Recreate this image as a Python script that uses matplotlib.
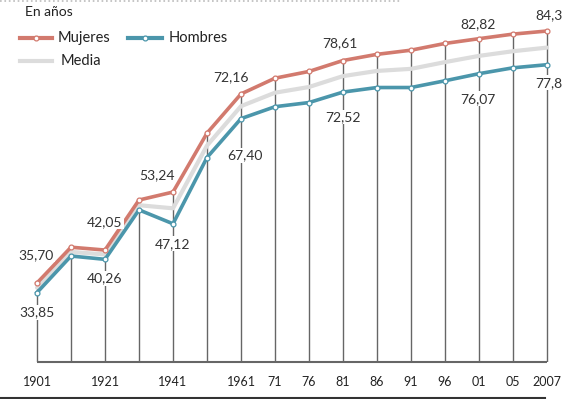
import matplotlib
matplotlib.use("Agg")
import matplotlib.pyplot as plt
from matplotlib.lines import Line2D

# ---------------- DATA ----------------
years = ["1901", "1911", "1921", "1931", "1941", "1951", "1961", "1971",
         "1976", "1981", "1986", "1991", "1996", "2001", "2005", "2007"]
tick_labels = ["1901", "", "1921", "", "1941", "", "1961", "71",
               "76", "81", "86", "91", "96", "01", "05", "2007"]
mujeres = [35.70, 42.6, 42.05, 51.7, 53.24, 64.6, 72.16, 75.2,
           76.5, 78.61, 79.8, 80.6, 81.9, 82.82, 83.7, 84.3]
hombres = [33.85, 40.9, 40.26, 49.8, 47.12, 59.9, 67.40, 69.7,
           70.5, 72.52, 73.4, 73.4, 74.7, 76.07, 77.2, 77.8]
media = [34.8, 41.7, 41.2, 50.7, 50.1, 62.2, 69.8, 72.4,
         73.5, 75.6, 76.6, 77.0, 78.3, 79.5, 80.4, 81.1]

# labels shown on the chart: (index, series, text, offset in px)
labels_m = [(0, "35,70", (-1, 28)), (2, "42,05", (0, 28)), (4, "53,24", (-16, 17)),
            (6, "72,16", (-10, 17)), (9, "78,61", (-3, 17)), (13, "82,82", (-1, 15)),
            (15, "84,3", (2, 16))]
labels_h = [(0, "33,85", (0, -20)), (2, "40,26", (0, -19)), (4, "47,12", (0, -20)),
            (6, "67,40", (4, -37)), (9, "72,52", (0, -25)), (13, "76,07", (-1, -25)),
            (15, "77,8", (2, -18))]

C_M = "#d27a6e"
C_H = "#4b96ab"
C_MED = "#dcdcdc"
FONT = "Lato"

# ---------------- FIGURE ----------------
W, H = 565, 399
fig = plt.figure(figsize=(W / 100, H / 100), dpi=100)
base_px = 362
ax = fig.add_axes([0, (H - base_px) / H, 1, base_px / H])
x = list(range(len(years)))
px_per_unit = 34.0
ax.set_xlim(-37 / px_per_unit, (W - 37) / px_per_unit)
ax.set_ylim(20.46, 90.28)
for s in ax.spines.values():
    s.set_visible(False)
ax.set_yticks([])
ax.set_xticks(x)
ax.set_xticklabels(tick_labels, fontsize=9, fontfamily=FONT, color="#222222")
ax.tick_params(axis="x", length=0, pad=10)

# vertical guides and baseline
ax.vlines(x, 20.46, mujeres, color="#666666", lw=1.0, zorder=1)
ax.hlines(20.46, x[0], x[-1], color="#666666", lw=1.5, zorder=1, clip_on=False)

mk = dict(marker="o", markersize=3.5, markerfacecolor="white", markeredgewidth=0.9)
ax.plot(x, media, color=C_MED, lw=3, zorder=2, solid_capstyle="round")
ax.plot(x, hombres, color=C_H, lw=2.6, markeredgecolor=C_H, zorder=3, **mk)
ax.plot(x, mujeres, color=C_M, lw=2.6, markeredgecolor=C_M, zorder=4, **mk)

bb = dict(boxstyle="square,pad=0.1", fc="white", ec="none")
for series, labs in ((mujeres, labels_m), (hombres, labels_h)):
    for i, txt, (dx, dy) in labs:
        ax.annotate(txt, (x[i], series[i]), xytext=(dx * 0.72, dy * 0.72),
                    textcoords="offset points", ha="center", va="center",
                    fontsize=10, fontfamily=FONT, color="#333333", bbox=bb, zorder=5)

# legend drawn by hand
def fx(p):
    return p / W

def fy(p):
    return 1 - p / H

fig.text(fx(25), fy(12), "En años", fontsize=10, fontfamily=FONT, color="#222222",
         va="center", ha="left")
for x0, x1, y, c, name, tx in ((20, 52, 38, C_M, "Mujeres", 58),
                               (128, 162, 38, C_H, "Hombres", 169),
                               (20, 52, 61, C_MED, "Media", 61)):
    fig.add_artist(Line2D([fx(x0), fx(x1)], [fy(y), fy(y)], color=c, lw=3))
    if c != C_MED:
        fig.add_artist(Line2D([fx((x0 + x1) / 2)], [fy(y)], marker="o", markersize=3.5,
                              markerfacecolor="white", markeredgecolor=c,
                              markeredgewidth=0.9))
    fig.text(fx(tx), fy(y), name, fontsize=10.5, fontfamily=FONT, color="#222222",
             va="center", ha="left")

# rules at top and bottom of the graphic
fig.add_artist(Line2D([0, fx(400)], [fy(1), fy(1)], color="#bbbbbb", lw=1.2, ls=":"))
fig.add_artist(Line2D([0, fx(545)], [fy(397.5), fy(397.5)], color="#333333", lw=1.5))

fig.savefig("out.png", dpi=100)
